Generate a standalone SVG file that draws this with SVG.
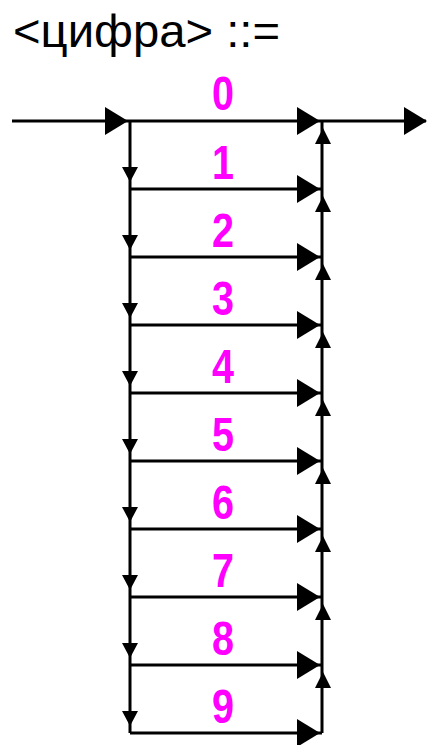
<svg xmlns="http://www.w3.org/2000/svg" xmlns:xlink="http://www.w3.org/1999/xlink" width="428" height="745" viewBox="0 0 428 745">
<style>
.ln{stroke:#000;stroke-width:3;fill:none}
.ah{fill:#000}
.dg{font-family:"Liberation Sans",Arial,sans-serif;font-weight:bold;font-size:48px;fill:#FF00FF;text-anchor:middle}
.tt{font-family:"Liberation Sans",Arial,sans-serif;font-size:46px;fill:#000}
</style>
<defs>
<polygon id="arrR" class="ah" points="-23,-14 -23,14 0,0"/>
<polygon id="arrD" class="ah" points="-8,-15 8,-15 0,0"/>
<polygon id="arrU" class="ah" points="-8,16 8,16 0,0"/>
</defs>
<rect width="428" height="745" fill="#fff"/>
<g id="title"><text class="tt" x="13" y="47" textLength="267" lengthAdjust="spacingAndGlyphs">&lt;цифра&gt; ::=</text></g>
<g id="connectors">
<path class="ln" d="M12,121H426 M130,121V733 M322,121V733 M130,189H322 M130,257H322 M130,325H322 M130,393H322 M130,461H322 M130,529H322 M130,597H322 M130,665H322 M130,733H322"/>
<use xlink:href="#arrR" x="128" y="121"/>
<use xlink:href="#arrR" x="427" y="121"/>
<use xlink:href="#arrR" x="320" y="121"/>
<use xlink:href="#arrR" x="320" y="189"/>
<use xlink:href="#arrR" x="320" y="257"/>
<use xlink:href="#arrR" x="320" y="325"/>
<use xlink:href="#arrR" x="320" y="393"/>
<use xlink:href="#arrR" x="320" y="461"/>
<use xlink:href="#arrR" x="320" y="529"/>
<use xlink:href="#arrR" x="320" y="597"/>
<use xlink:href="#arrR" x="320" y="665"/>
<use xlink:href="#arrR" x="320" y="733"/>
<use xlink:href="#arrD" x="130" y="182"/>
<use xlink:href="#arrD" x="130" y="250"/>
<use xlink:href="#arrD" x="130" y="318"/>
<use xlink:href="#arrD" x="130" y="386"/>
<use xlink:href="#arrD" x="130" y="454"/>
<use xlink:href="#arrD" x="130" y="522"/>
<use xlink:href="#arrD" x="130" y="590"/>
<use xlink:href="#arrD" x="130" y="658"/>
<use xlink:href="#arrD" x="130" y="726"/>
<use xlink:href="#arrU" x="323" y="128"/>
<use xlink:href="#arrU" x="323" y="196"/>
<use xlink:href="#arrU" x="323" y="264"/>
<use xlink:href="#arrU" x="323" y="332"/>
<use xlink:href="#arrU" x="323" y="400"/>
<use xlink:href="#arrU" x="323" y="468"/>
<use xlink:href="#arrU" x="323" y="536"/>
<use xlink:href="#arrU" x="323" y="604"/>
<use xlink:href="#arrU" x="323" y="672"/>
</g>
<g id="d0"><text class="dg" x="223" y="110" textLength="22" lengthAdjust="spacingAndGlyphs">0</text></g>
<g id="d1"><text class="dg" x="223" y="179" textLength="22" lengthAdjust="spacingAndGlyphs">1</text></g>
<g id="d2"><text class="dg" x="223" y="247" textLength="22" lengthAdjust="spacingAndGlyphs">2</text></g>
<g id="d3"><text class="dg" x="223" y="315" textLength="22" lengthAdjust="spacingAndGlyphs">3</text></g>
<g id="d4"><text class="dg" x="223" y="383" textLength="22" lengthAdjust="spacingAndGlyphs">4</text></g>
<g id="d5"><text class="dg" x="223" y="451" textLength="22" lengthAdjust="spacingAndGlyphs">5</text></g>
<g id="d6"><text class="dg" x="223" y="519" textLength="22" lengthAdjust="spacingAndGlyphs">6</text></g>
<g id="d7"><text class="dg" x="223" y="587" textLength="22" lengthAdjust="spacingAndGlyphs">7</text></g>
<g id="d8"><text class="dg" x="223" y="655" textLength="22" lengthAdjust="spacingAndGlyphs">8</text></g>
<g id="d9"><text class="dg" x="223" y="723" textLength="22" lengthAdjust="spacingAndGlyphs">9</text></g>
</svg>
